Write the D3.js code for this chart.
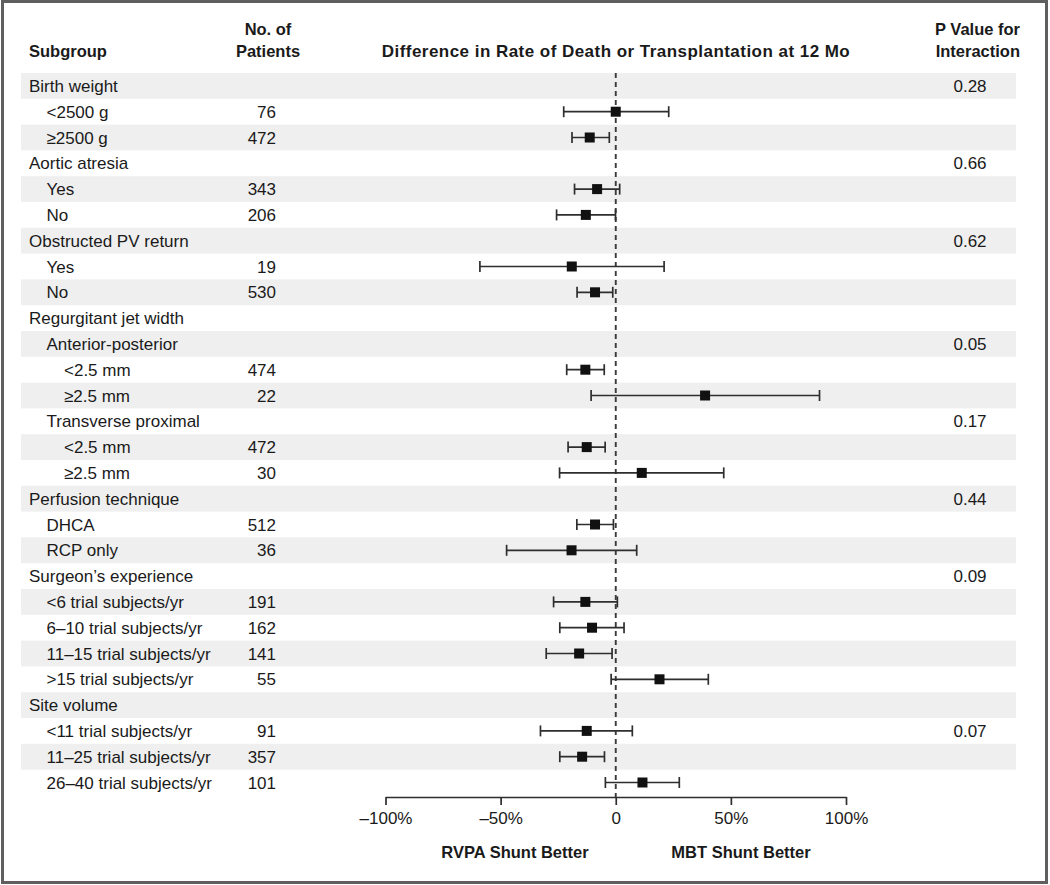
<!DOCTYPE html>
<html><head><meta charset="utf-8">
<script src="https://cdn.jsdelivr.net/npm/d3@7"></script>
<style>
html,body{margin:0;padding:0;background:#fff;}
svg{display:block;font-family:"Liberation Sans",Arial,sans-serif;}
</style></head>
<body><svg id="chart" width="1050" height="885"></svg>
<script>
const labels = ["Birth weight","<2500 g","≥2500 g","Aortic atresia","Yes","No","Obstructed PV return","Yes","No","Regurgitant jet width","Anterior-posterior","<2.5 mm","≥2.5 mm","Transverse proximal","<2.5 mm","≥2.5 mm","Perfusion technique","DHCA","RCP only","Surgeon’s experience","<6 trial subjects/yr","6–10 trial subjects/yr","11–15 trial subjects/yr",">15 trial subjects/yr","Site volume","<11 trial subjects/yr","11–25 trial subjects/yr","26–40 trial subjects/yr"];
const levels = [0,1,1,0,1,1,0,1,1,0,1,2,2,1,2,2,0,1,1,0,1,1,1,1,0,1,1,1];
const nPatients = [null,76,472,null,343,206,null,19,530,null,null,474,22,null,472,30,null,512,36,null,191,162,141,55,null,91,357,101];
const estimate = [null,0,-11.3,null,-8.1,-13,null,-19.1,-9,null,null,-13.2,38.8,null,-12.6,11.3,null,-9,-19.2,null,-13.2,-10.3,-15.9,19,null,-12.6,-14.6,11.6];
const ciLow = [null,-22.6,-19,null,-17.9,-25.7,null,-59,-16.8,null,null,-21.3,-10.7,null,-20.7,-24.4,null,-16.9,-47.4,null,-27,-24.3,-30.2,-2,null,-32.7,-24.3,-4.5];
const ciHigh = [null,23,-2.8,null,1.7,-0.1,null,21,-1.3,null,null,-5,88.5,null,-4.6,46.9,null,-1,9.1,null,0.7,3.6,-1.6,40.2,null,7.2,-4.9,27.6];
const pValues = ["0.28","","","0.66","","","0.62","","","","0.05","","","0.17","","","0.44","","","0.09","","","","","","0.07","",""];
const tickValues = [-100,-50,0,50,100];
const tickLabels = ["–100%","–50%","0","50%","100%"];
const headers = {subgroup:"Subgroup", n:["No. of","Patients"], diff:"Difference in Rate of Death or Transplantation at 12 Mo", p:["P Value for","Interaction"]};
const sideLabels = ["RVPA Shunt Better","MBT Shunt Better"];

const svg = d3.select("#chart");
const ink = "#1a1a1a";
const fs = 17;

// border
svg.append("rect").attr("x",2.5).attr("y",1.5).attr("width",1044).attr("height",881)
  .attr("fill","#fff").attr("stroke","#5f5f5f").attr("stroke-width",3);

const idx = d3.range(labels.length);
const y = d3.scaleBand().domain(idx).range([73, 73 + 25.8*labels.length]).padding(0);
const x = d3.scaleLinear().domain([-100,100]).range([385.5,846]);
const yc = i => y(i) + y.bandwidth()/2;

// bands
svg.append("g").selectAll("rect").data(idx.filter(i => i%2===0)).join("rect")
  .attr("x",21).attr("width",995).attr("y",i=>y(i)).attr("height",y.bandwidth())
  .attr("fill","#efefef");

// headers
const hd = svg.append("g").attr("fill",ink).attr("font-weight","bold").attr("font-size",16.5);
hd.append("text").attr("x",29).attr("y",57).text(headers.subgroup);
hd.append("text").attr("x",268).attr("y",35).attr("text-anchor","middle").text(headers.n[0]);
hd.append("text").attr("x",268).attr("y",57).attr("text-anchor","middle").text(headers.n[1]);
hd.append("text").attr("x",x(0)).attr("y",57).attr("text-anchor","middle")
  .attr("font-size",17).attr("textLength",468).attr("lengthAdjust","spacing").text(headers.diff);
hd.append("text").attr("x",1020).attr("y",35).attr("text-anchor","end").text(headers.p[0]);
hd.append("text").attr("x",1020).attr("y",57).attr("text-anchor","end").text(headers.p[1]);

// row labels
const rows = svg.append("g").attr("fill",ink).attr("font-size",fs);
rows.selectAll("text.lab").data(idx).join("text").attr("class","lab")
  .attr("x",i=>29 + levels[i]*17.5).attr("y",i=>yc(i)+6).text(i=>labels[i]);
rows.selectAll("text.n").data(idx.filter(i=>nPatients[i]!=null)).join("text").attr("class","n")
  .attr("x",276).attr("y",i=>yc(i)+6).attr("text-anchor","end").text(i=>nPatients[i]);
rows.selectAll("text.p").data(idx.filter(i=>pValues[i])).join("text").attr("class","p")
  .attr("x",970).attr("y",i=>yc(i)+6).attr("text-anchor","middle").text(i=>pValues[i]);

// reference line
const axisY = 797;
svg.append("line").attr("x1",x(0)).attr("x2",x(0)).attr("y1",73).attr("y2",axisY)
  .attr("stroke","#3a3a3a").attr("stroke-width",1.9).attr("stroke-dasharray","5,4");

// CIs
const pts = idx.filter(i=>estimate[i]!=null);
const g = svg.append("g").attr("stroke","#2e2e2e").attr("stroke-width",1.7);
g.selectAll("line.ci").data(pts).join("line").attr("class","ci")
  .attr("x1",i=>x(ciLow[i])).attr("x2",i=>x(ciHigh[i])).attr("y1",yc).attr("y2",yc);
g.selectAll("line.cl").data(pts).join("line").attr("class","cl")
  .attr("x1",i=>x(ciLow[i])).attr("x2",i=>x(ciLow[i])).attr("y1",i=>yc(i)-5.5).attr("y2",i=>yc(i)+5.5);
g.selectAll("line.ch").data(pts).join("line").attr("class","ch")
  .attr("x1",i=>x(ciHigh[i])).attr("x2",i=>x(ciHigh[i])).attr("y1",i=>yc(i)-5.5).attr("y2",i=>yc(i)+5.5);
svg.append("g").selectAll("rect").data(pts).join("rect")
  .attr("x",i=>x(estimate[i])-5).attr("y",i=>yc(i)-5).attr("width",10).attr("height",10)
  .attr("fill","#111");

// axis
const axis = d3.axisBottom(x).tickValues(tickValues).tickSize(8).tickSizeOuter(0).tickPadding(7)
  .tickFormat((d,i)=>tickLabels[i]);
const ax = svg.append("g").attr("transform",`translate(0,${axisY})`).call(axis);
ax.select(".domain").attr("stroke","#2e2e2e").attr("stroke-width",1.7);
ax.selectAll(".tick line").attr("stroke","#2e2e2e").attr("stroke-width",1.7);
ax.selectAll(".tick text").attr("fill",ink).attr("font-size",fs).attr("font-family","Liberation Sans, Arial, sans-serif");

// side labels
const sl = svg.append("g").attr("fill",ink).attr("font-weight","bold").attr("font-size",16.5).attr("text-anchor","middle");
sl.append("text").attr("x",515).attr("y",858).text(sideLabels[0]);
sl.append("text").attr("x",741).attr("y",858).text(sideLabels[1]);
</script></body></html>
